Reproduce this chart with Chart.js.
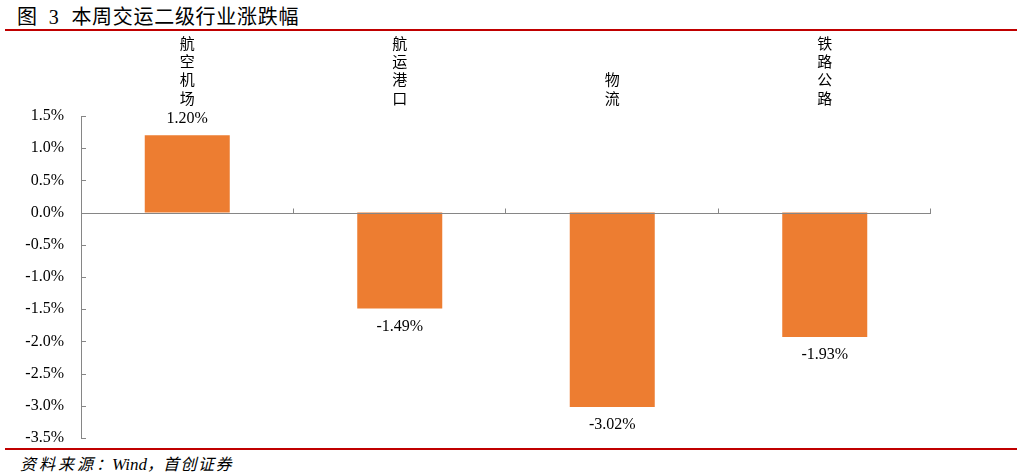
<!DOCTYPE html>
<html>
<head>
<meta charset="utf-8">
<script src="https://cdn.jsdelivr.net/npm/chart.js@4.4.1/dist/chart.umd.min.js"></script>
<style>
  html, body { margin: 0; padding: 0; background: #fff; }
  #wrap { position: relative; width: 1017px; height: 476px; overflow: hidden; }
  #title { position: absolute; left: 17px; top: 1px; font: 400 20px "Noto Sans CJK SC"; color: #000; white-space: pre; letter-spacing: 0.7px; }
  #title .num { font-family: "Liberation Serif"; margin: 0 12px 0 11px; }
  #topline { position: absolute; left: 5px; right: 0; top: 29px; height: 2px; background: #c00000; }
  #botline { position: absolute; left: 5px; right: 0; top: 448px; height: 2px; background: #c00000; }
  #source { position: absolute; left: 20px; top: 451px; font: italic 16px "Noto Sans CJK SC"; color: #000; white-space: pre; }
  #source .a { letter-spacing: 3px; }
  #source .c { letter-spacing: -6px; }
  #source .w { font-family: "Liberation Serif"; font-size: 17px; margin-left: 6px; }
  #source .d { letter-spacing: 1.5px; }
  #chartBox { position: absolute; left: 0; top: 0; width: 1017px; height: 476px; }
</style>
</head>
<body>
<div id="wrap">
  <div id="title">图<span class="num">3</span>本周交运二级行业涨跌幅</div>
  <div id="topline"></div>
  <div id="botline"></div>
  <div id="source"><span class="a">资料来源</span><span class="c">：</span><span class="w">Wind</span>，<span class="d">首创证券</span></div>
  <div id="chartBox"><canvas id="chg"></canvas></div>
</div>
<script>
// 数据
const categories = ["航空机场", "航运港口", "物流", "铁路公路"];
const changes = [1.20, -1.49, -3.02, -1.93];
const yMin = -3.5;
const yMax = 1.5;
const yStep = 0.5;

const axisGray = "#868686";

// 零轴线、刻度、竖排类目名、数值标签
const overlay = {
    id: "overlay",
    afterDatasetsDraw(chart) {
        const { ctx, chartArea, scales: { x, y } } = chart;
        const zero = Math.round(y.getPixelForValue(0)) + 0.5;
        ctx.save();
        ctx.strokeStyle = axisGray;
        ctx.lineWidth = 1;
        ctx.beginPath();
        ctx.moveTo(chartArea.left, zero);
        ctx.lineTo(chartArea.right, zero);
        const step = (chartArea.right - chartArea.left) / categories.length;
        for (let i = 1; i <= categories.length; i++) {
            const px = Math.round(chartArea.left + i * step) - 0.5;
            ctx.moveTo(px, zero);
            ctx.lineTo(px, zero - 5);
        }
        y.ticks.forEach(t => {
            const py = Math.round(y.getPixelForValue(t.value)) + 0.5;
            ctx.moveTo(chartArea.left, py);
            ctx.lineTo(chartArea.left + 5, py);
        });
        ctx.stroke();

        ctx.fillStyle = "#000";
        ctx.textAlign = "center";
        ctx.textBaseline = "middle";
        ctx.font = '15px "Noto Sans CJK SC"';
        categories.forEach((c, i) => {
            const px = x.getPixelForValue(i);
            const chars = [...c];
            chars.forEach((ch, k) => {
                ctx.fillText(ch, px, chartArea.top - 18 - (chars.length - 1 - k) * 18.3);
            });
        });

        ctx.font = '16px "Liberation Serif"';
        chart.getDatasetMeta(0).data.forEach((bar, i) => {
            const v = changes[i];
            const ty = v >= 0 ? bar.y - 17 : bar.y + 18;
            ctx.fillText(v.toFixed(2) + "%", bar.x, ty);
        });
        ctx.restore();
    }
};

new Chart(document.getElementById("chg"), {
    type: "bar",
    data: {
        labels: categories,
        datasets: [{
            data: changes,
            backgroundColor: "#ED7D31",
            borderWidth: 0,
            barPercentage: 0.4,
            categoryPercentage: 1
        }]
    },
    options: {
        responsive: true,
        maintainAspectRatio: false,
        animation: false,
        layout: { padding: { top: 116, right: 86, bottom: 38, left: 0 } },
        plugins: {
            legend: { display: false },
            tooltip: { enabled: false }
        },
        scales: {
            x: { display: false },
            y: {
                min: yMin,
                max: yMax,
                afterFit: s => { s.width = 81; },
                border: { display: true, color: axisGray },
                grid: { display: false, drawTicks: false, tickLength: 0 },
                ticks: {
                    stepSize: yStep,
                    padding: 17,
                    color: "#000",
                    font: { family: "Liberation Serif", size: 16 },
                    callback: v => Number(v).toFixed(1) + "%"
                }
            }
        }
    },
    plugins: [overlay]
});
</script>
</body>
</html>
